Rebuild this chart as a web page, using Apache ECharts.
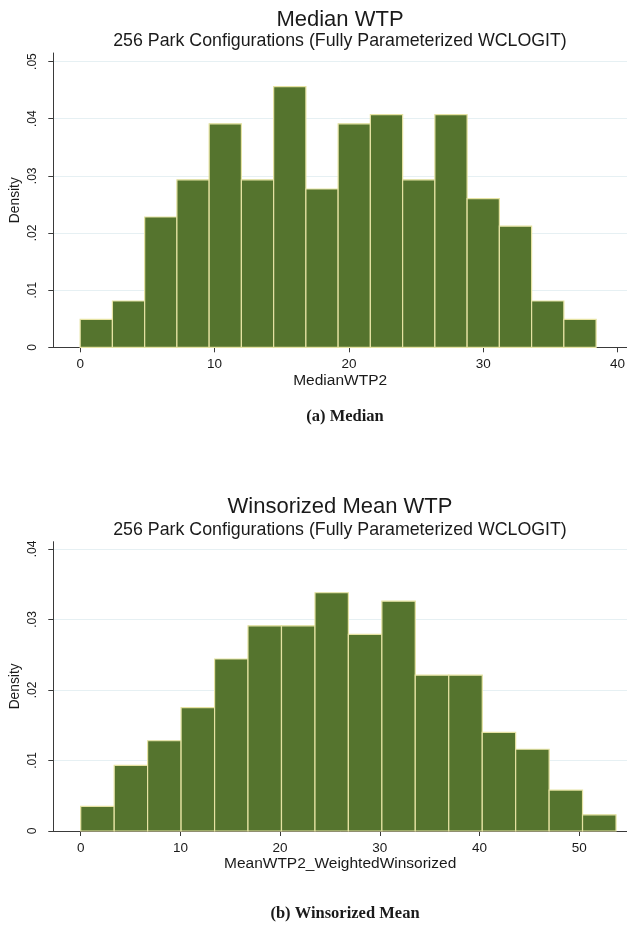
<!DOCTYPE html>
<html>
<head>
<meta charset="utf-8">
<script src="https://cdn.jsdelivr.net/npm/echarts@6/dist/echarts.min.js"></script>
<style>
html,body{margin:0;padding:0;background:#fff;}
#chart{width:627px;height:926px;}
</style>
</head>
<body>
<div id="chart"></div>
<script>
// ---- Data ----
const medianEdges = [0, 2.4, 4.8, 7.2, 9.6, 12, 14.4, 16.8, 19.2, 21.6, 24, 26.4, 28.8, 31.2, 33.6, 36, 38.4];
const medianDensity = [0.0049, 0.0081, 0.0228, 0.0293, 0.0391, 0.0293, 0.0456, 0.0277,
                       0.0391, 0.0407, 0.0293, 0.0407, 0.0260, 0.0212, 0.0081, 0.0049];
const meanEdges = [0, 3.36, 6.71, 10.07, 13.43, 16.78, 20.14, 23.50, 26.85, 30.21, 33.56, 36.92, 40.28, 43.63, 46.99, 50.34, 53.70];
const meanDensity = [0.0035, 0.0093, 0.0128, 0.0175, 0.0244, 0.0291, 0.0291, 0.0338,
                     0.0279, 0.0326, 0.0221, 0.0221, 0.0140, 0.0116, 0.0058, 0.0023];
const medianXTicks = [0, 10, 20, 30, 40];
const meanXTicks = [0, 10, 20, 30, 40, 50];
const medianYTicks = [0, 0.01, 0.02, 0.03, 0.04, 0.05];
const meanYTicks = [0, 0.01, 0.02, 0.03, 0.04];

const titles = ['Median WTP', 'Winsorized Mean WTP'];
const subtitle = '256 Park Configurations (Fully Parameterized WCLOGIT)';
const xNames = ['MedianWTP2', 'MeanWTP2_WeightedWinsorized'];
const captions = ['(a) Median', '(b) Winsorized Mean'];

// ---- Styles ----
const SANS = '"Liberation Sans", Arial, sans-serif';
const SERIF = '"Liberation Serif", "Times New Roman", serif';
const FILL = '#55742e';
const EDGE = '#e6e3a3';
const AXIS = '#3a3a3a';
const TXT = '#1a1a1a';

function toBins(edges, dens) {
  return dens.map((d, i) => [edges[i], edges[i + 1], d]);
}
function yFmt(v) {
  if (v === 0) return '0';
  return String(+v.toFixed(2)).replace(/^0\./, '.');
}
function renderItem(params, api) {
  const p0 = api.coord([api.value(0), api.value(2)]);
  const p1 = api.coord([api.value(1), 0]);
  return {
    type: 'rect',
    shape: { x: p0[0], y: p0[1], width: p1[0] - p0[0], height: p1[1] - p0[1] },
    style: { fill: FILL, stroke: EDGE, lineWidth: 1.2 }
  };
}
function xAxis(idx, min, max, ticks, name, gap) {
  return {
    type: 'value', gridIndex: idx, min: min, max: max,
    axisLine: { show: true, onZero: false, lineStyle: { color: AXIS, width: 1 } },
    axisTick: { show: true, length: 5, customValues: ticks, lineStyle: { color: AXIS } },
    axisLabel: { customValues: ticks, margin: 10, fontFamily: SANS, fontSize: 13.5, color: TXT },
    splitLine: { show: false },
    name: name, nameLocation: 'middle', nameGap: gap, nameMoveOverlap: false,
    nameTextStyle: { fontFamily: SANS, fontSize: 15.5, color: TXT, verticalAlign: 'middle' }
  };
}
function yAxis(idx, max, ticks) {
  return {
    type: 'value', gridIndex: idx, min: 0, max: max,
    axisLine: { show: true, onZero: false, lineStyle: { color: AXIS, width: 1 } },
    axisTick: { show: true, length: 5, customValues: ticks, lineStyle: { color: AXIS } },
    axisLabel: { customValues: ticks, rotate: 90, margin: 14.5, fontFamily: SANS, fontSize: 12, color: TXT, formatter: yFmt },
    splitLine: { show: true, lineStyle: { color: '#e6f0f3', width: 1 } },
    name: 'Density', nameLocation: 'middle', nameRotate: 90, nameGap: 38, nameMoveOverlap: false,
    nameTextStyle: { fontFamily: SANS, fontSize: 13.8, color: TXT, verticalAlign: 'middle' }
  };
}
function txt(text, x, y, size, family, weight) {
  return {
    type: 'text', x: x, y: y, silent: true,
    style: { text: text, fill: TXT, font: (weight || 'normal') + ' ' + size + 'px ' + family,
             textAlign: 'center', textVerticalAlign: 'middle' }
  };
}

const chart = echarts.init(document.getElementById('chart'), null, { renderer: 'canvas' });
chart.setOption({
  backgroundColor: '#fff',
  animation: false,
  grid: [
    { left: 53.3, top: 53, width: 573.7, height: 294.3, containLabel: false, outerBoundsMode: 'none' },
    { left: 53.3, top: 541.7, width: 573.7, height: 289.3, containLabel: false, outerBoundsMode: 'none' }
  ],
  xAxis: [
    xAxis(0, -2, 40.7, medianXTicks, xNames[0], 33),
    xAxis(1, -2.75, 54.8, meanXTicks, xNames[1], 32.5)
  ],
  yAxis: [
    yAxis(0, 0.0515, medianYTicks),
    yAxis(1, 0.04104, meanYTicks)
  ],
  series: [
    { type: 'custom', xAxisIndex: 0, yAxisIndex: 0, renderItem: renderItem,
      encode: { x: [0, 1], y: 2 }, data: toBins(medianEdges, medianDensity) },
    { type: 'custom', xAxisIndex: 1, yAxisIndex: 1, renderItem: renderItem,
      encode: { x: [0, 1], y: 2 }, data: toBins(meanEdges, meanDensity) }
  ],
  graphic: [
    txt(titles[0], 340, 19.7, 22, SANS),
    txt(subtitle, 340, 41.2, 17.8, SANS),
    txt(captions[0], 345, 417, 16.5, SERIF, 'bold'),
    txt(titles[1], 340, 507.3, 22, SANS),
    txt(subtitle, 340, 530, 17.8, SANS),
    txt(captions[1], 345, 913.5, 16.5, SERIF, 'bold')
  ]
});
</script>
</body>
</html>
